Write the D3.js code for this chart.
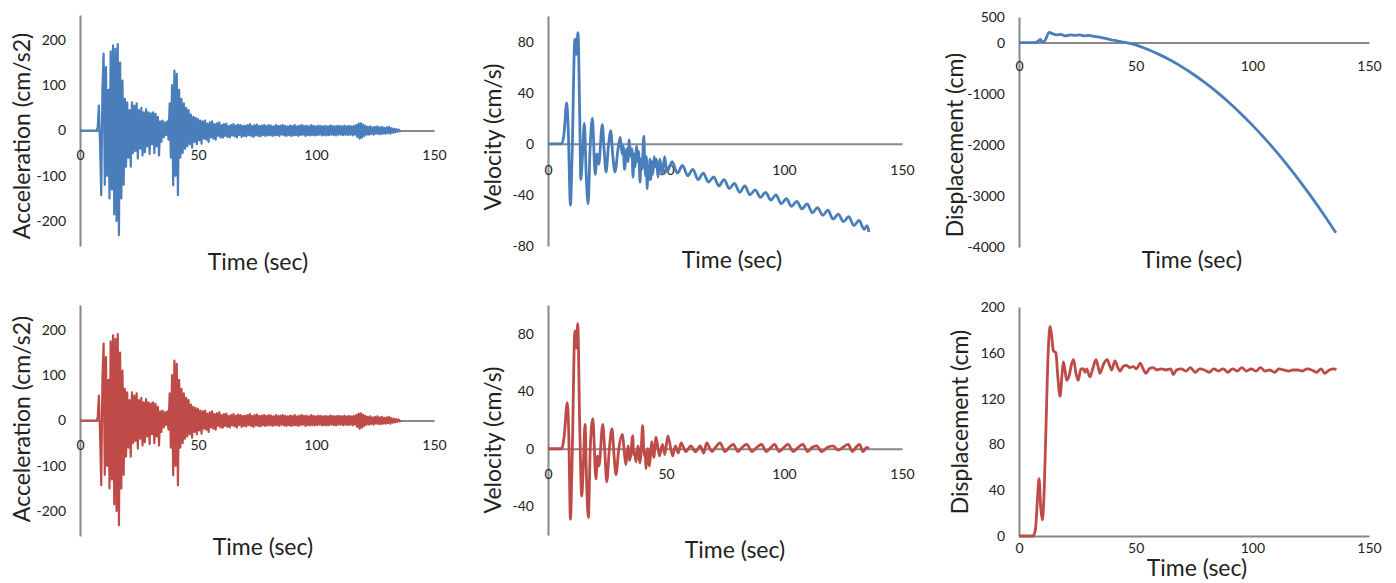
<!DOCTYPE html>
<html>
<head>
<meta charset="utf-8">
<script src="https://cdn.jsdelivr.net/npm/d3@7"></script>
<style>
body { margin: 0; background: #fff; }
svg text { font-family: Lato, "Open Sans", sans-serif; }
</style>
</head>
<body>
<svg id="chart" width="1396" height="583"></svg>
<script>
// time axis shared by all six panels
var timeTicks = [0, 50, 100, 150]

// acceleration record, one value every 0.5 s from t = 0 (cm/s2)
var accelStep = 0.5
var accel = [
  0,0,0,0,0,0,0,0,0,0,0,0,0,0,0,6,55,-30,-143,90,
  170,-120,140,-100,90,-150,175,-130,188,-185,180,-200,191,-231,150,-150,110,-120,70,-80,
  62,-60,45,-80,62,-50,55,-45,60,-62,45,-40,50,-55,40,-48,47,-35,40,-52,
  38,-30,40,-50,37,-35,30,-55,20,-25,22,-15,18,-10,20,-20,60,-60,100,-121,
  132,-100,125,-143,90,-60,70,-50,60,-40,50,-35,45,-30,35,-38,30,-25,28,-30,
  25,-22,22,-29,20,-18,22,-20,15,-25,18,-15,20,-18,14,-20,16,-12,18,-15,
  12,-16,14,-12,15,-14,10,-15,12,-11,14,-13,11,-15,13,-10,12,-14,10,-12,
  11,-13,12,-10,14,-12,10,-14,12,-11,13,-12,10,-13,11,-10,12,-12,10,-11,
  12,-10,11,-12,9,-11,12,-10,10,-12,11,-9,12,-11,10,-12,9,-10,11,-12,
  10,-11,12,-10,9,-12,11,-10,12,-9,10,-12,11,-10,9,-11,12,-10,10,-11,
  9,-10,11,-9,10,-11,9,-10,10,-11,9,-10,11,-9,10,-10,9,-11,10,-9,
  10,-9,9,-10,11,-9,9,-10,10,-9,9,-11,10,-9,12,-14,15,-18,16,-16,
  13,-12,10,-9,8,-9,9,-8,7,-9,8,-7,9,-8,7,-8,8,-7,6,-7,
  7,-6,8,-7,5,-5,4,-4,3,-3,2,-2,0
]

// velocity before baseline correction, turning points [t, cm/s]
var velocityRaw = [
  [0,0],[5.8,0],[6.8,8],[7.9,32],[8.6,10],[9.5,-48],[10.2,-10],[11.4,82],[12.0,70],[12.7,87],
  [13.5,15],[13.9,-28],[14.6,-10],[15.4,16],[16.2,-25],[17.0,-47],[17.8,-5],[18.8,20],[20.0,-24],
  [20.8,-8],[21.5,-16],[23.0,15],[23.8,-5],[24.6,-22],[25.6,-2],[26.6,10],[27.4,-8],[28.4,-22],
  [29.6,-5],[30.6,5],[31.4,-8],[31.9,-2],[32.4,-20],[33.4,-4],[33.9,-14],[34.4,3],[34.8,-6],
  [35.2,-10],[35.6,-4],[36.0,-26],[36.5,-8],[36.8,-18],[37.6,-2],[38.0,-14],[38.4,-6],[39.0,-30],
  [39.4,-12],[39.8,-20],[40.6,6],[41.0,-15],[41.4,-25],[41.7,-10],[42.0,-35],[42.4,-18],[42.8,-28],
  [43.2,-12],[43.6,-28],[44.0,-14],[44.4,-24],[45.0,-10],[45.4,-18],[46.0,-12],[46.6,-26],
  [47.4,-12],[48.4,-24],[49.4,-10],[50.4,-22],[52.6,-14],
  [54.8,-23],[57.0,-17],[59.2,-25],[61.4,-20],[63.6,-28],[65.8,-23],[68.0,-30],[70.2,-26],
  [72.4,-33],[74.6,-28],[76.8,-35],[79.0,-31],[81.2,-38],[83.4,-33],[85.6,-40],[87.8,-36],
  [90.0,-42],[92.2,-38],[94.4,-44],[96.6,-40],[98.8,-47],[101.0,-43],[103.2,-49],[105.4,-45],
  [107.6,-51],[109.8,-47],[112.0,-54],[114.2,-50],[116.4,-56],[118.6,-52],[120.8,-59],[123.0,-55],
  [125.2,-61],[127.4,-57],[129.6,-64],[131.8,-60],[134.0,-67],[135.2,-64],[136.0,-69]
]

// displacement before baseline correction [t, cm]
var dispRaw = [
  [0,0],[7,0],[8.5,40],[9.2,60],[10,10],[11,30],[13,200],[14.5,170],[16,150],[18,160],[20,130],
  [22,150],[24,140],[26,150],[28,130],[30,140],[32,120],[34,110],[36,90],[38,70],[40,50],[42,35],
  [44,15],[46,0],[50,-45],[55,-130],[60,-231],[65,-348],[70,-481],[75,-630],[80,-795],[85,-976],
  [90,-1173],[95,-1386],[100,-1615],[105,-1860],[110,-2121],[115,-2398],[120,-2691],[125,-3000],
  [130,-3325],[135.8,-3720]
]

// velocity after correction [t, cm/s]
var velocityCorr = [
  [0,0],[5.8,0],[6.8,8],[8.2,32],[8.8,10],[9.5,-49],[10.2,-10],[11.4,82],[12.0,70],[12.6,87],
  [13.4,20],[14.3,-33],[15.0,-10],[15.7,17],[16.3,-20],[17.1,-48],[17.9,0],[19.0,21],[20.3,-21],
  [21.0,-5],[21.6,-12],[23.2,17],[24.0,0],[24.9,-23],[26.0,0],[27.1,14],[28.0,-5],[28.8,-18],
  [30.0,0],[31.6,10],[32.3,-2],[33.0,-11],[33.5,-3],[34.0,2],[34.5,-8],[35.0,-5],[35.9,9],
  [36.3,-4],[36.6,-2],[37.3,-9],[37.8,-1],[38.2,2],[38.6,-6],[39.0,-10],[39.5,0],[40.1,16],
  [40.5,2],[40.8,-5],[41.2,-2],[41.5,-14],[42.0,-4],[42.3,0],[42.7,-8],[43.0,-12],[43.5,-2],
  [44.0,5],[44.4,-2],[44.8,-6],[45.8,8],[47.2,-5],[48.5,3],[49.5,-4],[50.8,9],[52.8,-5],[54.0,2],
  [55.2,-3],[56.4,4],[58.4,-2],[60.5,2],[62.5,-2],[64.5,2],[66.0,-3],[67.2,4],[69.5,-2],[71.0,1],
  [72.9,4],[75.0,-2],[76.8,1],[78.5,3],[80.5,-2],[82.3,1],[84.2,3],[86.5,-2],[88.5,1],[90.5,3],
  [92.5,-2],[94.5,1],[96.0,3],[98.0,-2],[100.0,1],[101.7,3],[104.0,-2],[106.0,1],[108.0,3],
  [110.0,-2],[112.0,1],[113.8,2],[116.0,-2],[118.5,1],[120.8,2],[123.0,-1],[125.0,1],[127.2,3],
  [129.0,-2],[130.5,1],[132.0,3],[133.5,-2],[135.0,1],[136.0,0]
]

// displacement after correction [t, cm]
var dispCorr = [
  [0,0],[6,0],[7,5],[8.0,35],[8.6,50],[9.3,25],[10.0,14],[10.6,30],[11.5,90],[12.5,160],[13.3,183],
  [14.0,175],[14.7,162],[15.8,160],[16.6,140],[17.6,122],[18.4,140],[19.0,152],[19.7,145],[20.4,136],
  [21.5,140],[22.5,150],[23.4,154],[24.4,142],[25.4,136],[26.5,146],[27.6,146],[28.3,143],[29.0,146],
  [30.4,139],[31.6,146],[33.0,154],[34.0,147],[34.7,142],[36.2,150],[37.8,154],[39.0,148],[39.7,145],
  [41.1,153],[42.2,148],[43.3,144],[44.6,148],[46.1,149],[47.5,147],[49.0,148],[50.4,146],[51.9,151],
  [53.2,146],[54.4,142],[55.8,146],[57.5,147],[59.0,145],[61.0,146],[63.0,145],[65.0,146],[66.2,141],
  [67.5,145],[69.5,146],[71.5,144],[73.5,147],[75.5,143],[77.5,146],[79.5,145],[81.5,143],[83.5,146],
  [85.5,144],[87.5,146],[89.5,143],[91.5,146],[93.5,144],[95.5,147],[97.5,144],[99.5,146],[101.5,144],
  [103.5,147],[105.5,144],[107.5,145],[109.5,143],[111.5,146],[113.5,145],[115.5,144],[117.5,145],
  [119.5,145],[121.5,144],[123.5,146],[125.5,145],[127.5,143],[129.5,146],[131.0,142],[133.0,145],
  [135.0,146],[136.0,145]
]

var accelTicks = [-200, -100, 0, 100, 200]
var velRawTicks = [-80, -40, 0, 40, 80]
var dispRawTicks = [-4000, -3000, -2000, -1000, 0, 500]
var velCorrTicks = [-40, 0, 40, 80]
var dispCorrTicks = [0, 40, 80, 120, 160, 200]

var blue = '#4a7ebb', red = '#be4b48', axisGrey = '#878787', textCol = '#222'

var accelPoints = accel.map((v, i) => [i * accelStep, v])

var panels = [
  {x0:80, x1:434, yTop:15, yBot:246, dom:[-255,255], ticks:accelTicks, data:accelPoints, color:blue,
   title:'Acceleration (cm/s2)', tx:22, ty:136, timeX:258, timeY:262, gap:25, smooth:false},
  {x0:548, x1:902, yTop:16, yBot:246, dom:[-80,100], ticks:velRawTicks, data:velocityRaw, color:blue,
   title:'Velocity (cm/s)', tx:493, ty:137, timeX:732, timeY:260, gap:26, smooth:true},
  {x0:1019, x1:1369, yTop:17, yBot:247, dom:[-4000,500], ticks:dispRawTicks, data:dispRaw, color:blue,
   title:'Displacement (cm)', tx:955, ty:145, timeX:1192, timeY:260, gap:24, smooth:true},
  {x0:80, x1:434, yTop:305, yBot:536, dom:[-255,255], ticks:accelTicks, data:accelPoints, color:red,
   title:'Acceleration (cm/s2)', tx:22, ty:419, timeX:263, timeY:547, gap:25, smooth:false},
  {x0:548, x1:902, yTop:305, yBot:535, dom:[-60,100], ticks:velCorrTicks, data:velocityCorr, color:red,
   title:'Velocity (cm/s)', tx:493, ty:440, timeX:735, timeY:550, gap:25, smooth:true},
  {x0:1019, x1:1369, yTop:307, yBot:536, dom:[0,200], ticks:dispCorrTicks, data:dispCorr, color:red,
   title:'Displacement (cm)', tx:960, ty:422, timeX:1197, timeY:568, gap:12, smooth:true}
]

var svg = d3.select('#chart')

panels.forEach(function (p) {
  var x = d3.scaleLinear().domain([0, 150]).range([p.x0, p.x1])
  var y = d3.scaleLinear().domain(p.dom).range([p.yBot, p.yTop])
  var g = svg.append('g')

  // y axis
  var gy = g.append('g')
    .attr('transform', `translate(${p.x0},0)`)
    .call(d3.axisLeft(y).tickValues(p.ticks).tickFormat(d => String(d))
      .tickSize(0).tickSizeOuter(0).tickPadding(14))
  gy.select('.domain').attr('stroke', axisGrey).attr('stroke-width', 2)
  gy.selectAll('text').attr('font-size', 14).attr('fill', textCol)

  // x axis sits on zero
  var gx = g.append('g')
    .attr('transform', `translate(0,${y(0)})`)
    .call(d3.axisBottom(x).tickValues(timeTicks).tickFormat(d => String(d))
      .tickSize(0).tickSizeOuter(0))
  gx.select('.domain').attr('stroke', axisGrey).attr('stroke-width', 2)
  gx.selectAll('text').attr('font-size', 14).attr('fill', textCol)
    .attr('y', p.gap).attr('dy', '0.35em')

  var line = d3.line()
    .x(d => x(d[0]))
    .y(d => y(d[1]))
    .curve(p.smooth ? d3.curveMonotoneX : d3.curveLinear)

  g.append('path')
    .datum(p.data)
    .attr('d', line)
    .attr('fill', 'none')
    .attr('stroke', p.color)
    .attr('stroke-width', p.smooth ? 2.8 : 2.2)
    .attr('stroke-linejoin', 'round')

  g.append('text')
    .attr('transform', `translate(${p.tx},${p.ty}) rotate(-90)`)
    .attr('text-anchor', 'middle')
    .attr('dy', '0.35em')
    .attr('font-size', 23)
    .attr('fill', textCol)
    .text(p.title)

  g.append('text')
    .attr('x', p.timeX)
    .attr('y', p.timeY)
    .attr('text-anchor', 'middle')
    .attr('dy', '0.35em')
    .attr('font-size', 23)
    .attr('fill', textCol)
    .text('Time (sec)')
})
</script>
</body>
</html>
